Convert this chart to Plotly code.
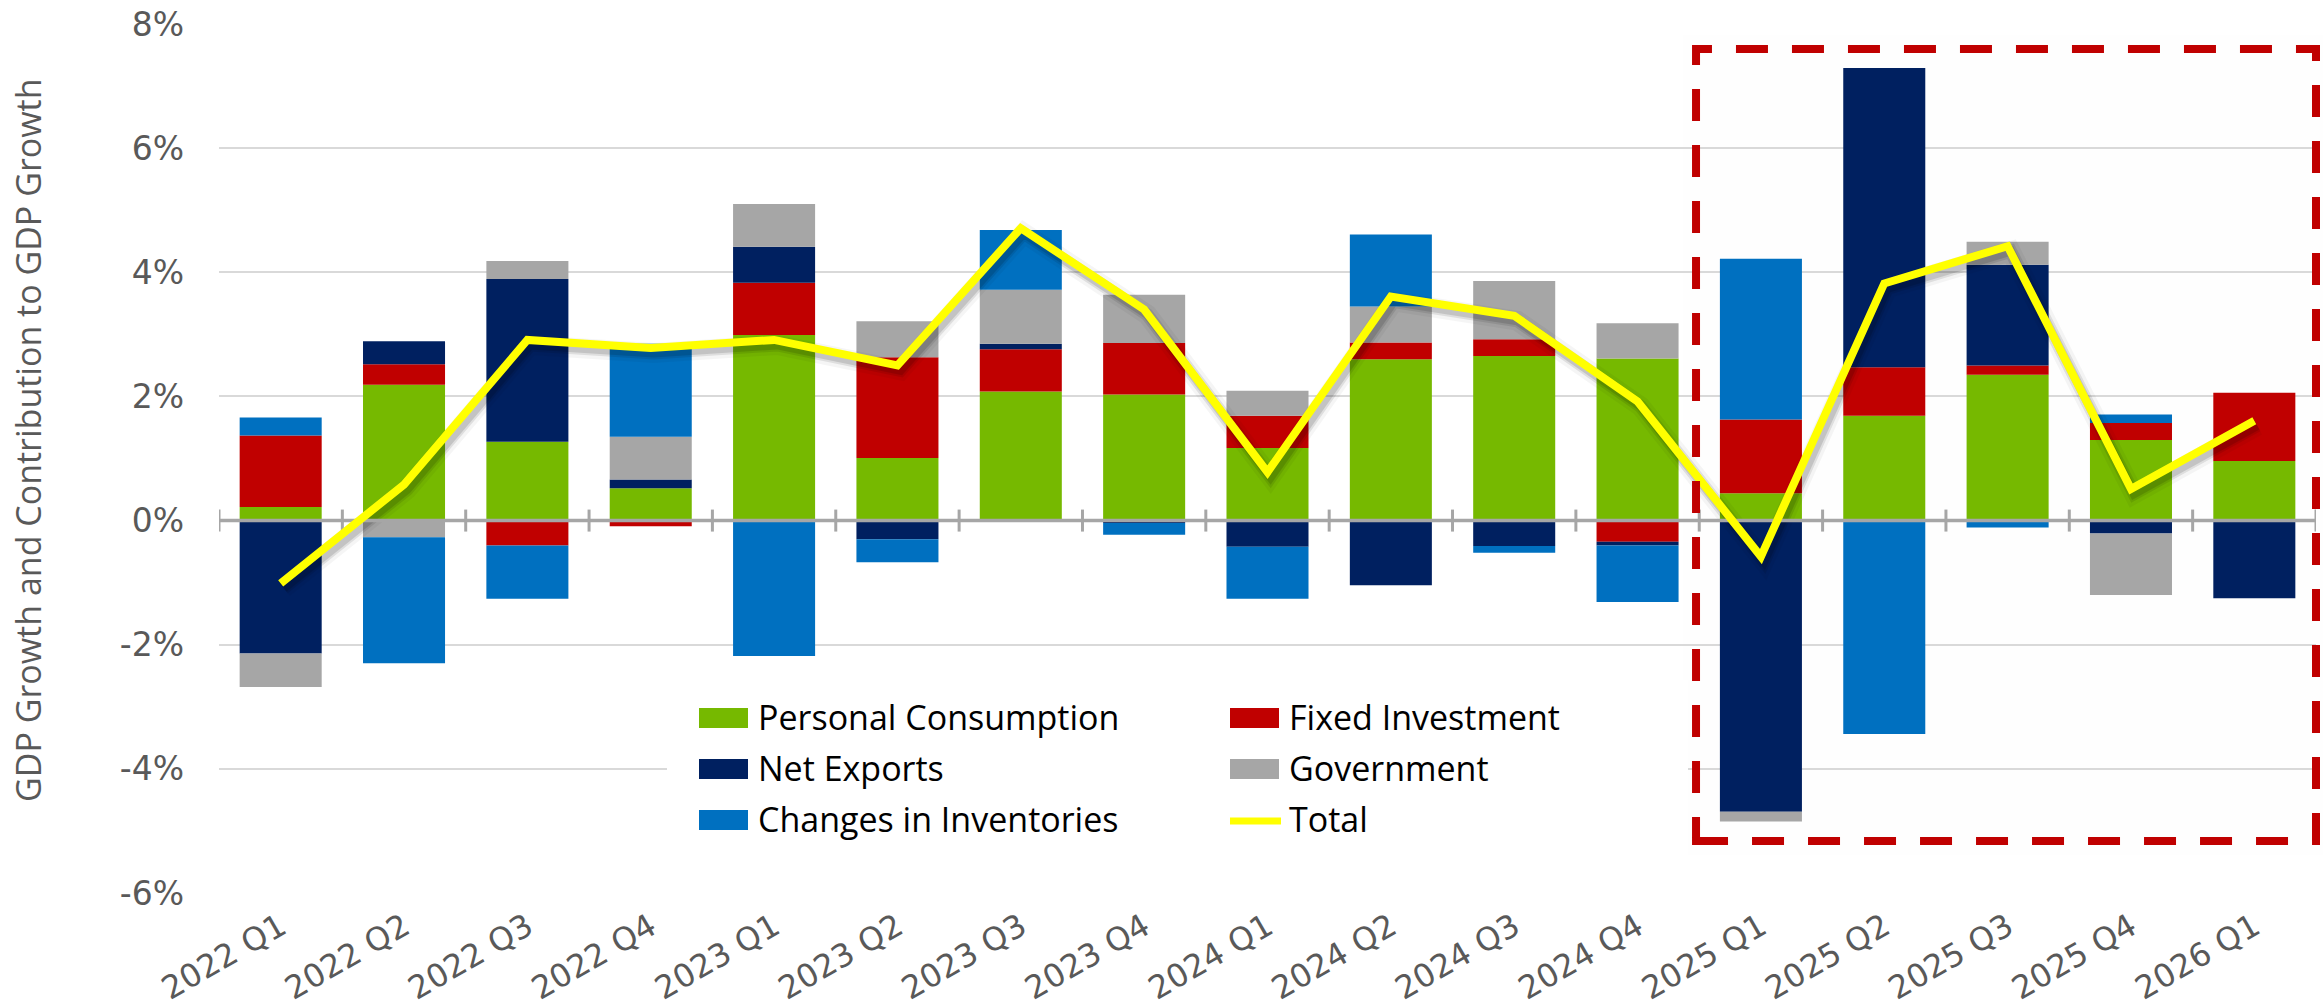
import plotly.graph_objects as go

# Quarterly contributions to real GDP growth (percentage points, annualized)
quarters = [
    "2022 Q1", "2022 Q2", "2022 Q3", "2022 Q4",
    "2023 Q1", "2023 Q2", "2023 Q3", "2023 Q4",
    "2024 Q1", "2024 Q2", "2024 Q3", "2024 Q4",
    "2025 Q1", "2025 Q2", "2025 Q3", "2025 Q4",
    "2026 Q1",
]
personal_consumption = [0.22, 2.19, 1.27, 0.52, 2.99, 1.01, 2.08, 2.03, 1.17, 2.60, 2.65, 2.61, 0.44, 1.69, 2.35, 1.30, 0.96]
fixed_investment = [1.15, 0.33, -0.40, -0.09, 0.84, 1.62, 0.68, 0.83, 0.52, 0.27, 0.27, -0.34, 1.19, 0.78, 0.15, 0.27, 1.10]
net_exports = [-2.14, 0.37, 2.62, 0.14, 0.58, -0.30, 0.09, -0.04, -0.42, -1.04, -0.41, -0.06, -4.69, 4.82, 1.62, -0.21, -1.25]
government = [-0.54, -0.27, 0.29, 0.69, 0.69, 0.58, 0.87, 0.78, 0.40, 0.58, 0.94, 0.57, -0.16, 0.00, 0.37, -0.99, 0.00]
inventories = [0.29, -2.03, -0.86, 1.50, -2.18, -0.37, 0.96, -0.19, -0.84, 1.16, -0.11, -0.91, 2.59, -3.44, -0.11, 0.14, 0.00]
total = [-1.01, 0.58, 2.91, 2.78, 2.91, 2.50, 4.71, 3.40, 0.78, 3.61, 3.30, 1.92, -0.58, 3.82, 4.42, 0.51, 1.61]

y_tick_values = [-6, -4, -2, 0, 2, 4, 6, 8]
y_tick_labels = ["-6%", "-4%", "-2%", "0%", "2%", "4%", "6%", "8%"]

first_forecast_quarter = "2025 Q1"

GREEN = "#76B900"
RED = "#C00000"
NAVY = "#002060"
GRAY = "#A6A6A6"
BLUE = "#0070C0"
YELLOW = "#FFFF00"
TEXT_GRAY = "#595959"
TICK_FONT = "DejaVu Sans"
TEXT_FONT = "Open Sans"

W, H = 2323, 1008
ML, MR, MT, MB = 219, 7, 24, 115
PW, PH = W - ML - MR, H - MT - MB
Y_MIN, Y_MAX = -6, 8


def px(x):
    return (x - ML) / PW


def py(y):
    return (H - MB - y) / PH


series = [
    ("Personal Consumption", personal_consumption, GREEN),
    ("Fixed Investment", fixed_investment, RED),
    ("Net Exports", net_exports, NAVY),
    ("Government", government, GRAY),
    ("Changes in Inventories", inventories, BLUE),
]

fig = go.Figure()

for name, vals, color in series:
    fig.add_trace(go.Bar(
        x=quarters, y=vals, name=name,
        marker=dict(color=color, line=dict(width=0)),
        xaxis="x", yaxis="y",
    ))

# soft drop shadow under the total line (drawn on a slightly offset subplot)
for width, alpha in [(20, 0.04), (13, 0.09), (9, 0.12)]:
    fig.add_trace(go.Scatter(
        x=quarters, y=total, mode="lines",
        line=dict(color=f"rgba(0,0,0,{alpha})", width=width),
        xaxis="x2", yaxis="y2", hoverinfo="skip", showlegend=False,
    ))

fig.add_trace(go.Scatter(
    x=quarters, y=total, mode="lines", name="Total",
    line=dict(color=YELLOW, width=8),
    xaxis="x3", yaxis="y3",
))

n = len(quarters)
x_range = [-0.5, n - 0.5]
shift_x = 3 / (PW / n)
shift_y = 5 / (PH / (Y_MAX - Y_MIN))

hidden = dict(visible=False, showgrid=False, zeroline=False, fixedrange=True, automargin=False)

fig.update_layout(
    width=W, height=H,
    margin=dict(l=ML, r=MR, t=MT, b=MB, pad=0, autoexpand=False),
    paper_bgcolor="white", plot_bgcolor="rgba(0,0,0,0)",
    barmode="relative", bargap=0.335,
    showlegend=False,
    font=dict(family=TEXT_FONT, color=TEXT_GRAY),
    xaxis=dict(
        type="category", categoryorder="array", categoryarray=quarters,
        range=x_range, domain=[0, 1], anchor="y", automargin=False,
        showgrid=False, zeroline=False, showline=False, ticks="",
        tickangle=-30, tickfont=dict(family=TICK_FONT, size=32, color=TEXT_GRAY),
        ticklabelstandoff=8,
    ),
    yaxis=dict(
        range=[Y_MIN, Y_MAX], domain=[0, 1], anchor="x", automargin=False,
        tickvals=y_tick_values, ticktext=y_tick_labels,
        tickfont=dict(family=TICK_FONT, size=33, color=TEXT_GRAY),
        showgrid=True, gridcolor="#D9D9D9", gridwidth=1.5,
        zeroline=False, showline=False, ticks="",
        ticklabelstandoff=34,
    ),
    xaxis2=dict(type="category", categoryorder="array", categoryarray=quarters,
                range=[x_range[0] - shift_x, x_range[1] - shift_x],
                domain=[0, 1], anchor="y2", **hidden),
    yaxis2=dict(range=[Y_MIN + shift_y, Y_MAX + shift_y], domain=[0, 1], anchor="x2", **hidden),
    xaxis3=dict(type="category", categoryorder="array", categoryarray=quarters,
                range=x_range, domain=[0, 1], anchor="y3", **hidden),
    yaxis3=dict(range=[Y_MIN, Y_MAX], domain=[0, 1], anchor="x3", **hidden),
)

shapes = []

# horizontal category axis at 0% with boundary tick marks
shapes.append(dict(type="line", xref="x3", yref="y3", layer="below",
                   x0=x_range[0], x1=x_range[1], y0=0, y1=0,
                   line=dict(color=GRAY, width=3.5)))
for i in range(n + 1):
    shapes.append(dict(type="line", xref="x3", yref="y3", layer="below",
                       x0=i - 0.5, x1=i - 0.5, ysizemode="pixel", yanchor=0,
                       y0=-11, y1=11, line=dict(color=GRAY, width=3)))

# legend panel
shapes.append(dict(type="rect", xref="paper", yref="paper", layer="above",
                   x0=px(667), x1=px(1688), y0=py(860), y1=py(680),
                   fillcolor="white", line=dict(width=0)))

legend_cols = [(699, 756), (1230, 1287)]
legend_rows = [718, 769, 820]
legend_items = [
    ("Personal Consumption", GREEN, "box"),
    ("Fixed Investment", RED, "box"),
    ("Net Exports", NAVY, "box"),
    ("Government", GRAY, "box"),
    ("Changes in Inventories", BLUE, "box"),
    ("Total", YELLOW, "line"),
]
annotations = []
for k, (label, color, kind) in enumerate(legend_items):
    sx, tx = legend_cols[k % 2]
    cy = legend_rows[k // 2]
    if kind == "box":
        shapes.append(dict(type="rect", xref="paper", yref="paper", layer="above",
                           x0=px(sx), x1=px(sx + 49), y0=py(cy + 10), y1=py(cy - 10),
                           fillcolor=color, line=dict(width=0)))
    else:
        shapes.append(dict(type="line", xref="paper", yref="paper", layer="above",
                           x0=px(sx), x1=px(sx + 51), y0=py(cy + 1), y1=py(cy + 1),
                           line=dict(color=color, width=7)))
    annotations.append(dict(xref="paper", yref="paper", x=px(tx), y=py(cy - 1),
                            xanchor="left", yanchor="middle", showarrow=False,
                            text=label, font=dict(family=TEXT_FONT, size=34, color="#000000")))

# faint halo around the forecast quarters
start_idx = quarters.index(first_forecast_quarter)
box_left = ML + (start_idx - 0.026) * PW / n
shapes.append(dict(type="rect", xref="paper", yref="paper", layer="below",
                   x0=px(box_left - 14), x1=px(W), y0=py(841 + 14), y1=py(49 - 14),
                   fillcolor="rgba(0,0,0,0.005)", line=dict(width=0)))
shapes.append(dict(type="rect", xref="paper", yref="paper", layer="above",
                   x0=px(box_left), x1=px(2316), y0=py(841), y1=py(49),
                   fillcolor="rgba(0,0,0,0)",
                   line=dict(color=RED, width=8, dash="32px,24px")))

# vertical axis title
annotations.append(dict(xref="paper", yref="paper", x=px(28), y=py(440),
                        xanchor="center", yanchor="middle", showarrow=False,
                        textangle=-90, text="GDP Growth and Contribution to GDP Growth",
                        font=dict(family=TEXT_FONT, size=34, color=TEXT_GRAY)))

fig.update_layout(shapes=shapes, annotations=annotations)

fig.write_html("out.html")
